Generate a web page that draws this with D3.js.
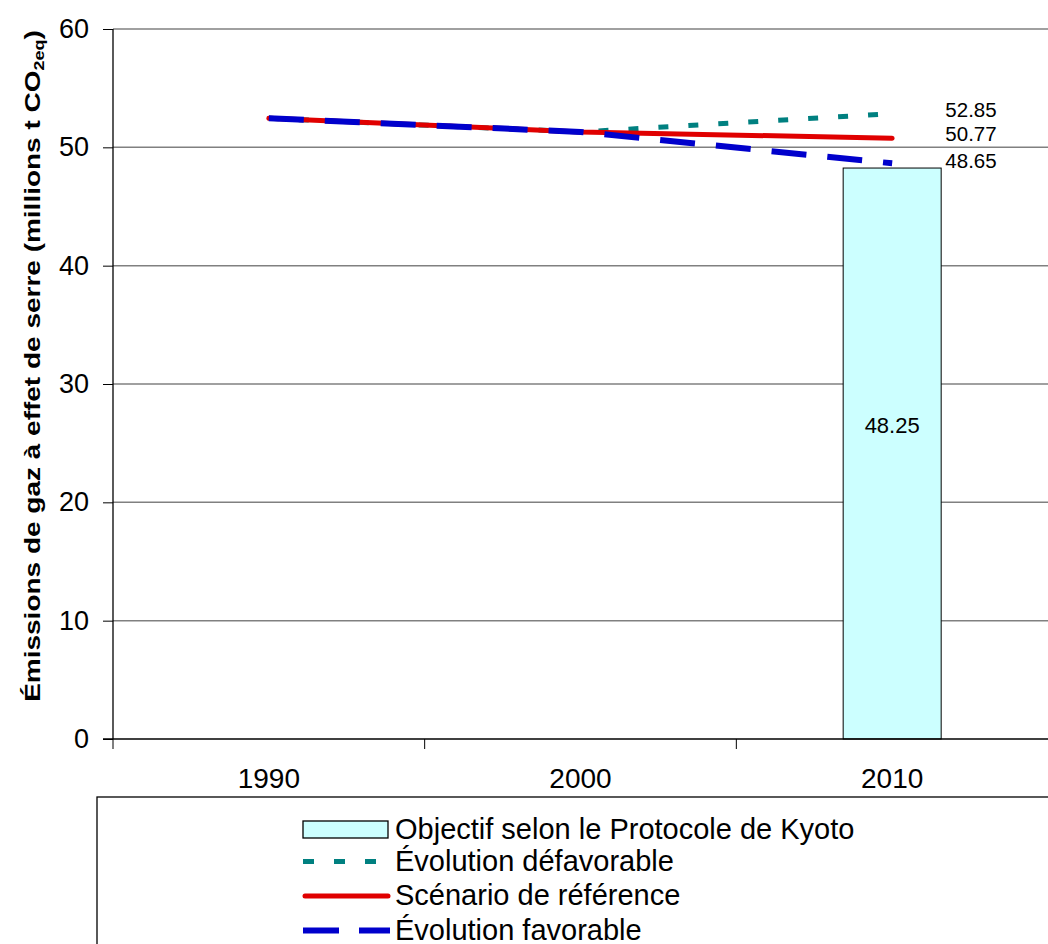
<!DOCTYPE html>
<html><head><meta charset="utf-8">
<script src="https://cdn.jsdelivr.net/npm/d3@7"></script>
<style>body{margin:0;background:#fff}svg{display:block}text{font-family:"Liberation Sans",Arial,sans-serif}</style>
</head><body>
<script>
const years = ["1990","2000","2010"];
const kyoto = 48.25;
const defavorable = [52.45, 51.3, 52.85];
const reference = [52.45, 51.3, 50.77];
const favorable = [52.45, 51.3, 48.65];
const yTicks = [0,10,20,30,40,50,60];
const legendLabels = ["Objectif selon le Protocole de Kyoto","Évolution défavorable","Scénario de référence","Évolution favorable"];

const W=1048,H=944;
const svg=d3.select("body").append("svg").attr("width",W).attr("height",H);
const x=d3.scaleBand().domain(years).range([113,1048]);
const y=d3.scaleLinear().domain([0,60]).range([739,29]);
const cx=d=>x(d)+x.bandwidth()/2;

// gridlines
svg.append("g").selectAll("line").data(yTicks.filter(t=>t>0)).join("line")
 .attr("x1",113).attr("x2",W).attr("y1",d=>y(d)).attr("y2",d=>y(d))
 .attr("stroke","#808080").attr("stroke-width",1.5);

// bar
const bw=98;
svg.append("rect").attr("x",cx("2010")-bw/2).attr("y",y(kyoto)).attr("width",bw).attr("height",y(0)-y(kyoto))
 .attr("fill","#CCFFFF").attr("stroke","#000").attr("stroke-width",1);
svg.append("text").attr("x",cx("2010")).attr("y",y(kyoto*0.55)).attr("dy","0.35em").attr("text-anchor","middle")
 .attr("font-size",22).text(kyoto.toFixed(2));

// lines
const line=d3.line().x((d,i)=>cx(years[i])).y(d=>y(d));
const series=[
 {v:defavorable,c:"#008080",w:5,dash:"10,20",ldash:"11,20",cap:"butt"},
 {v:reference,c:"#E00000",w:5,dash:null,ldash:null,cap:"round"},
 {v:favorable,c:"#0000CC",w:6,dash:"35,21",ldash:"36,20",cap:"butt"}
];
series.forEach(s=>{
 svg.append("path").attr("d",line(s.v)).attr("fill","none").attr("stroke",s.c).attr("stroke-width",s.w)
  .attr("stroke-dasharray",s.dash).attr("stroke-linecap",s.cap);
});
// end labels
const offs=[-4,-4,-2];
[defavorable,reference,favorable].forEach((v,i)=>{
 svg.append("text").attr("x",971).attr("y",y(v[2])+offs[i]).attr("dy","0.35em").attr("text-anchor","middle")
  .attr("font-size",20.5).text(v[2].toFixed(2));
});

// y axis
const ya=svg.append("g").attr("transform","translate(113,0)").call(d3.axisLeft(y).tickValues(yTicks).tickSize(10).tickPadding(14));
ya.select(".domain").attr("stroke","#000").attr("stroke-width",1.3).attr("d","M0,29V739");
ya.selectAll("line").attr("stroke","#000");
ya.selectAll("text").attr("font-size",27).attr("fill","#000");

// x axis
const xa=svg.append("g").attr("transform","translate(0,739)").call(d3.axisBottom(x).tickSize(0).tickPadding(29));
xa.select(".domain").attr("stroke","#000").attr("stroke-width",1.3).attr("d","M103,0H1048");
xa.selectAll("text").attr("font-size",28).attr("fill","#000");
svg.append("g").selectAll("line").data(years.map(d=>x(d))).join("line")
 .attr("x1",d=>d).attr("x2",d=>d).attr("y1",739).attr("y2",749).attr("stroke","#000").attr("stroke-width",1);

// y title
const yt=svg.append("text").attr("transform","translate(40,366) rotate(-90) scale(1,0.78)").attr("text-anchor","middle")
 .attr("font-size",28).attr("font-weight","bold");
yt.append("tspan").text("Émissions de gaz à effet de serre (millions t CO");
yt.append("tspan").attr("font-size",18).attr("dy",5).text("2eq");
yt.append("tspan").attr("dy",-5).text(")");

// legend
svg.append("rect").attr("x",97).attr("y",797).attr("width",W).attr("height",200).attr("fill","none").attr("stroke","#000").attr("stroke-width",1.3);
const ly=[829.5,861.5,896,930.5];
svg.append("rect").attr("x",303).attr("y",ly[0]-8.5).attr("width",85).attr("height",17).attr("fill","#CCFFFF").attr("stroke","#000").attr("stroke-width",1.3);
[1,2,3].forEach(i=>{
 const s=series[i-1];
 svg.append("line").attr("x1",s.cap==="round"?305:303).attr("x2",s.cap==="round"?388:390).attr("y1",ly[i]).attr("y2",ly[i]).attr("stroke",s.c)
  .attr("stroke-width",s.w).attr("stroke-dasharray",s.ldash).attr("stroke-linecap",s.cap);
});
svg.append("g").selectAll("text").data(legendLabels).join("text").attr("x",395).attr("y",(d,i)=>ly[i]+9)
 .attr("font-size",29).text(d=>d);
</script>
</body></html>
